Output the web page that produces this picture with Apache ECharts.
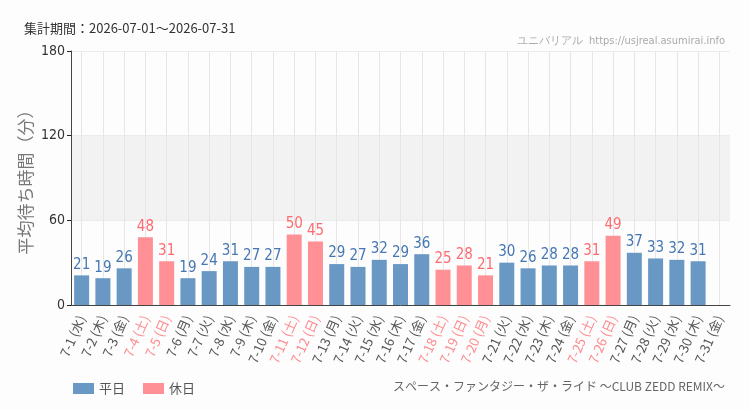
<!DOCTYPE html>
<html>
<head>
<meta charset="utf-8">
<script src="https://cdn.jsdelivr.net/npm/echarts@6/dist/echarts.min.js"></script>
<style>
  html, body { margin: 0; padding: 0; background: #fcfdfc; }
  #chart { width: 750px; height: 410px; }
</style>
</head>
<body>
<div id="chart"></div>
<script>
// 7月の日付と曜日
const days = ['7-1', '7-2', '7-3', '7-4', '7-5', '7-6', '7-7', '7-8', '7-9', '7-10',
  '7-11', '7-12', '7-13', '7-14', '7-15', '7-16', '7-17', '7-18', '7-19', '7-20',
  '7-21', '7-22', '7-23', '7-24', '7-25', '7-26', '7-27', '7-28', '7-29', '7-30', '7-31']
const weekdays = ['水', '木', '金', '土', '日', '月', '火', '水', '木', '金',
  '土', '日', '月', '火', '水', '木', '金', '土', '日', '月',
  '火', '水', '木', '金', '土', '日', '月', '火', '水', '木', '金']
// 1 = 休日
const holiday = [0, 0, 0, 1, 1, 0, 0, 0, 0, 0,
  1, 1, 0, 0, 0, 0, 0, 1, 1, 1,
  0, 0, 0, 0, 1, 1, 0, 0, 0, 0, 0]
// 平均待ち時間（分）, null = データなし
const waits = [21, 19, 26, 48, 31, 19, 24, 31, 27, 27,
  50, 45, 29, 27, 32, 29, 36, 25, 28, 21,
  30, 26, 28, 28, 31, 49, 37, 33, 32, 31, null]
const yTicks = [0, 60, 120, 180]

const blue = '#6a98c5'
const red = '#ff9196'
const narrow = "'Liberation Sans Narrow', 'DejaVu Sans Condensed', sans-serif"
const jp = "'Noto Sans CJK JP', sans-serif"

const categories = days.map((d, i) => d + ' (' + weekdays[i] + ')')
const weekdayData = waits.map((v, i) => (holiday[i] ? null : v))
const holidayData = waits.map((v, i) => (holiday[i] ? v : null))

let option = {
  animation: false,
  title: [
    {
      text: '集計期間：2026-07-01～2026-07-31',
      left: 19, top: 17,
      textStyle: { fontFamily: jp, fontSize: 13, fontWeight: 'normal', color: '#333' }
    },
    {
      text: 'ユニバリアル  https://usjreal.asumirai.info',
      right: 20, top: 31,
      textStyle: { fontFamily: narrow, fontSize: 11, fontWeight: 'normal', color: '#aaa' }
    },
    {
      text: 'スペース・ファンタジー・ザ・ライド ～CLUB ZEDD REMIX～',
      right: 20, top: 375,
      textStyle: { fontFamily: jp, fontSize: 12, fontWeight: 'normal', color: '#666' }
    }
  ],
  legend: {
    left: 68, top: 377,
    itemWidth: 21, itemHeight: 11, itemGap: 18,
    icon: 'rect',
    textStyle: { fontFamily: jp, fontSize: 13, color: '#555' },
    data: ['平日', '休日']
  },
  grid: { left: 71, right: 20, top: 51, bottom: 105 },
  xAxis: {
    type: 'category',
    data: categories,
    axisLine: { lineStyle: { color: '#444' } },
    axisTick: { alignWithLabel: true, length: 4, lineStyle: { color: '#222' } },
    splitLine: { show: true, alignWithLabel: true, interval: 0, lineStyle: { color: '#e6e6e6' } },
    axisLabel: {
      interval: 0,
      rotate: 66,
      margin: 11,
      fontFamily: jp,
      fontSize: 13,
      color: (val, idx) => (holiday[idx] ? '#ff8a8e' : '#555')
    }
  },
  yAxis: {
    type: 'value',
    min: yTicks[0], max: yTicks[yTicks.length - 1], interval: 60,
    name: '平均待ち時間（分）',
    nameLocation: 'middle',
    nameGap: 37,
    nameMoveOverlap: false,
    nameTextStyle: { fontFamily: jp, fontSize: 17, color: '#777' },
    axisLine: { show: true, lineStyle: { color: '#444' } },
    axisTick: { show: true, length: 4, lineStyle: { color: '#222' } },
    axisLabel: { fontFamily: narrow, fontSize: 14, color: '#333', margin: 6 },
    splitLine: { show: true, lineStyle: { color: '#ececec' } },
    splitArea: { show: true, areaStyle: { color: ['rgba(0,0,0,0)', '#f2f2f2', 'rgba(0,0,0,0)'] } }
  },
  series: [
    {
      name: '平日',
      type: 'bar',
      data: weekdayData,
      barWidth: 15,
      barGap: '-100%',
      itemStyle: { color: blue },
      label: {
        show: true, position: 'top', distance: 3,
        fontFamily: narrow, fontSize: 15, color: '#4677b3'
      }
    },
    {
      name: '休日',
      type: 'bar',
      data: holidayData,
      barWidth: 15,
      barGap: '-100%',
      itemStyle: { color: red },
      label: {
        show: true, position: 'top', distance: 3,
        fontFamily: narrow, fontSize: 15, color: '#ff6b72'
      }
    }
  ]
}

let chart = echarts.init(document.getElementById('chart'))
chart.setOption(option)
</script>
</body>
</html>
